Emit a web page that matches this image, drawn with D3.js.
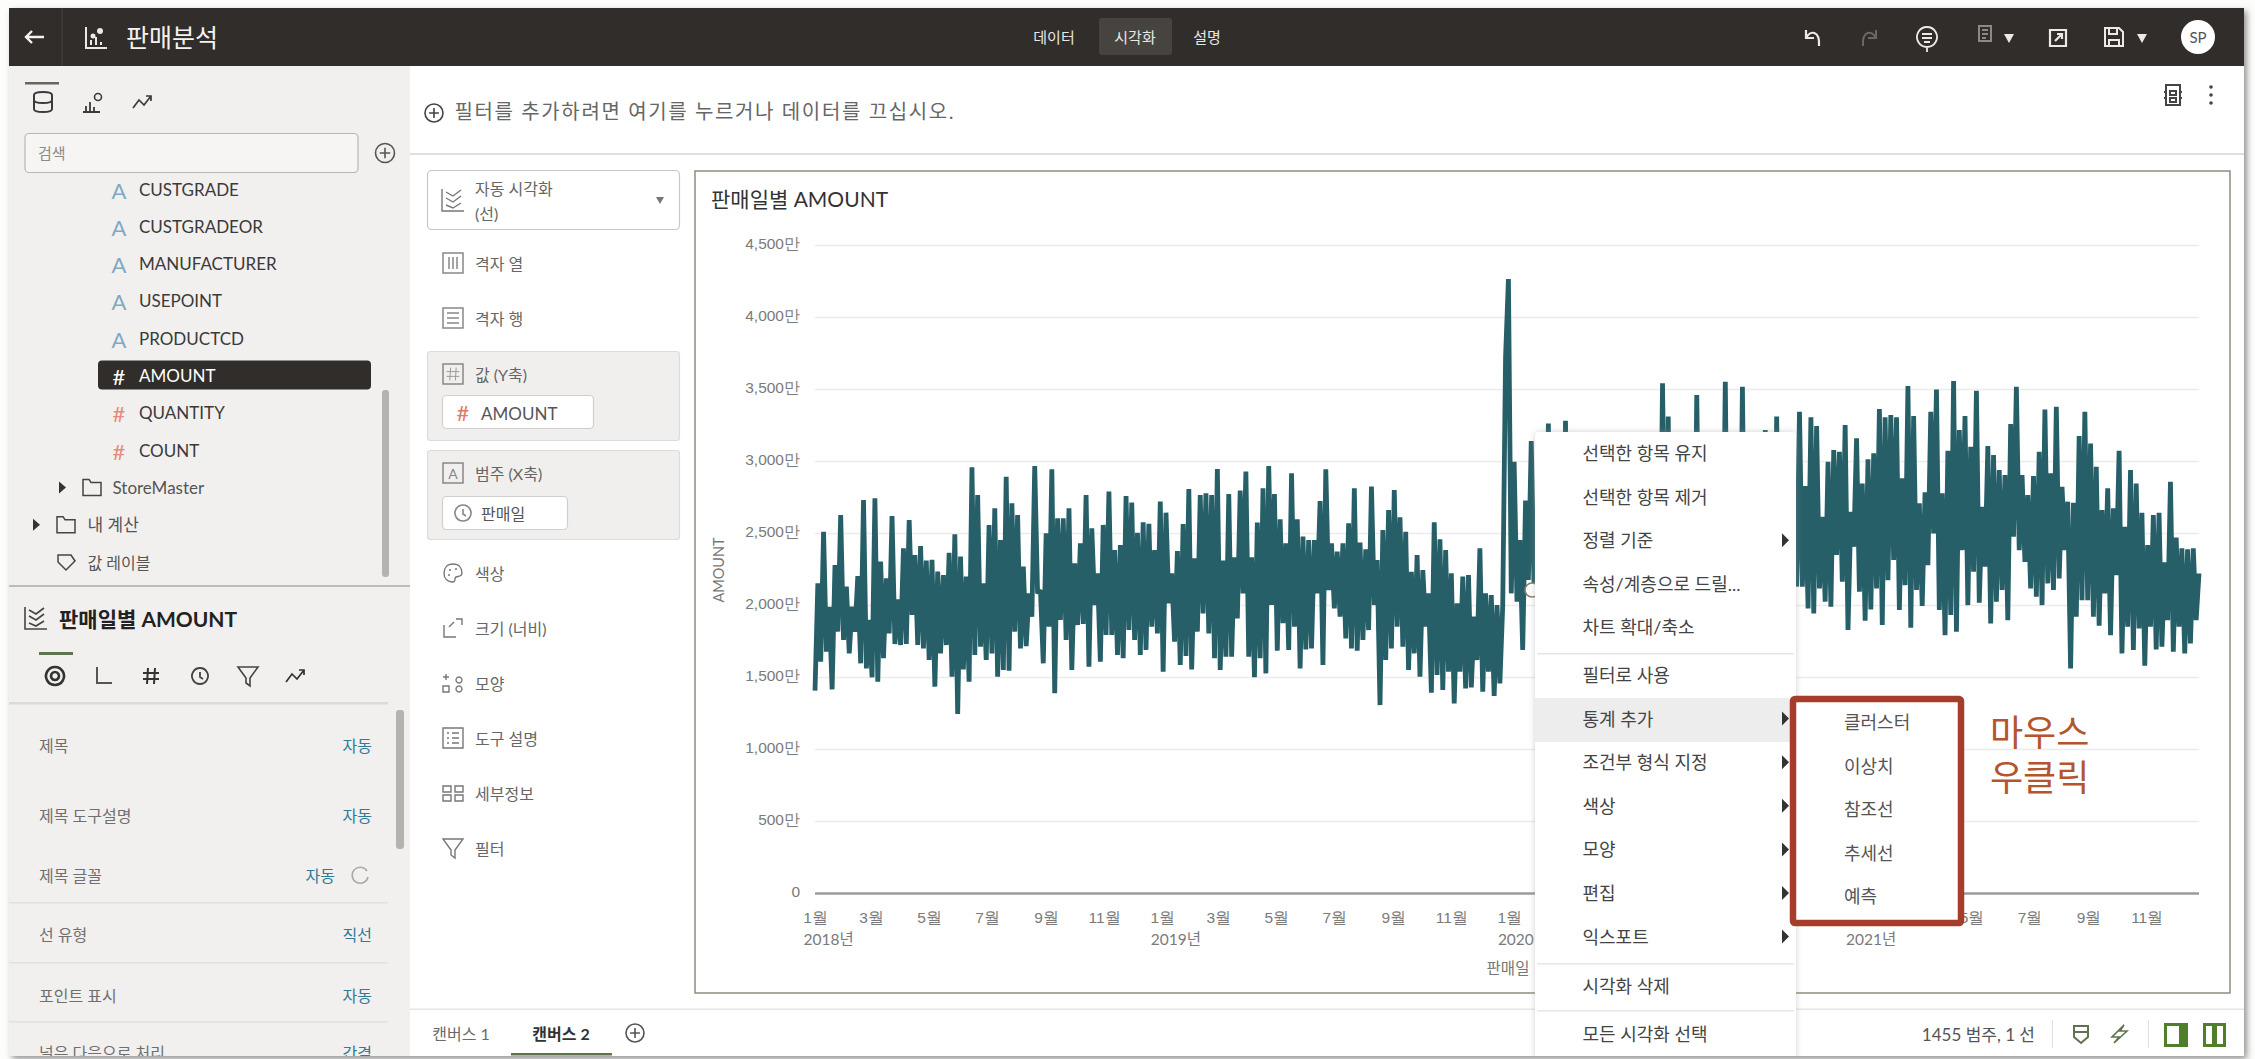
<!DOCTYPE html>
<html lang="ko">
<head>
<meta charset="utf-8">
<title>판매분석</title>
<script src="https://cdn.jsdelivr.net/npm/d3@7"></script>
<style>
  html, body { margin: 0; padding: 0; background: #fdfdfc; overflow: hidden; }
  svg { display: block; font-family: Lato, "Noto Sans CJK KR", sans-serif; }
  text { dominant-baseline: central; }
</style>
</head>
<body>
<svg id="app" width="2255" height="1059"></svg>
<script>
// Daily AMOUNT in units of 만, sampled every third day: each low is followed by the next high.
const amountLows = [
  1405,1607,1676,1414,1815,1757,1664,1815,1595,1560,1498,1468,1630,1803,1729,1722,1729,1931,1722,1699,1618,1433,1664,1722,1502,1243,1553,1468,1653,1711,1618,1664,1502,1549,1544,1815,1699,1715,1919,2081,1595,1850,1387,
  1896,1757,1549,1861,1868,1572,2000,1607,1792,1792,1653,1630,1826,1757,1653,1688,1850,1803,1537,2012,1745,1583,1646,1553,1815,1942,1803,1630,1549,1641,1641,1907,2081,1641,1498,1630,1525,2000,1683,1873,1688,1850,1560,1692,
  1699,2081,1583,2104,1977,1919,1768,1699,1683,1757,1826,2000,1305,1618,1699,1850,1711,1549,1664,1502,1850,1391,1514,1410,1537,1317,1537,1421,1428,1618,1398,1537,1368,1456,3725,2081,2023,1688,2174,2100,
  1750,1820,1680,1900,1640,1780,1860,1600,1720,1950,1680,1800,1580,1740,1880,1650,1790,1930,1700,1620,1850,1760,1900,1560,1700,1820,1960,1680,1780,1600,1890,1730,1840,1640,1980,1760,1690,1870,1620,1800,1940,1710,1850,1780,1900,
  2127,2127,1976,1942,2115,2023,1988,2347,2162,1826,2405,2092,1891,1969,2115,1861,2173,2312,1965,2138,1842,2104,1993,2277,2497,1965,1791,1930,1814,2381,1999,2231,2016,2266,1872,2023,
  2104,1895,2474,2381,2300,2115,2057,1999,2150,2104,2185,2381,1560,1918,2034,2034,1918,1856,2080,1791,2208,1664,1849,1687,1837,1578,1849,1692,1710,1895,1675,1849,1664,1733,1895
];
const amountHighs = [
  2151,2509,1988,2278,2625,2127,1988,2201,2729,1896,2741,2301,2185,2618,2039,2394,2590,2347,2410,2308,2313,2232,2208,2363,2491,2336,2197,2956,2764,2151,2556,2671,2451,2891,2706,2625,2266,2081,2965,2104,2498,2942,2602,
  2602,2671,2289,2428,2764,2533,2220,2556,2787,2382,2417,2757,2711,2502,2574,2563,2382,2718,2641,2220,2375,2563,2806,2324,2764,2776,2764,2945,2308,2771,2331,2794,2926,2331,2572,2810,2965,2771,2595,2428,2914,2595,2475,2451,
  2451,2722,2942,2428,2370,2428,2567,2810,2433,2387,2822,2312,2521,2660,2799,2609,2509,2231,2347,2243,2081,2574,2456,2382,2220,2012,2197,2208,1919,2393,2081,2069,2000,1995,4264,2995,2451,2725,3139,
  2600,2800,3261,2700,2500,3280,2600,2900,2500,2700,3000,2500,2800,2600,2900,2500,2750,2600,3000,2550,2800,3000,3539,3308,2700,2900,2500,2800,3458,2600,2900,2700,2500,3551,2800,2600,3516,2500,2900,2700,3215,2800,3308,2700,2900,2600,
  3342,2826,3303,3243,2613,2995,3076,3064,3250,2648,3157,2844,3011,3053,3361,3303,3319,3303,2879,3520,3312,2706,2782,3342,3497,2775,3071,3555,3215,3312,3099,3488,2682,3104,3041,2937,
  2902,3257,3516,2902,2763,2895,3064,3358,2914,3377,2821,2717,2710,3173,3342,3122,2960,2659,2810,2671,3071,2543,2937,2844,2641,2416,2625,2641,2296,2856,2469,2393,2386,2393,2219
];
const yTicks = [0, 500, 1000, 1500, 2000, 2500, 3000, 3500, 4000, 4500];
const yearLabels = ["2018년", "2019년", "2020년", "2021년"];
const chartTitle = "판매일별 AMOUNT";

const fieldNames = ["CUSTGRADE", "CUSTGRADEOR", "MANUFACTURER", "USEPOINT", "PRODUCTCD", "AMOUNT", "QUANTITY", "COUNT"];
const shelfNames = ["색상", "크기 (너비)", "모양", "도구 설명", "세부정보", "필터"];
const propertyNames = ["제목", "제목 도구설명", "제목 글꼴", "선 유형", "포인트 표시", "널은 다음으로 처리"];
const propertyValues = ["자동", "자동", "자동", "직선", "자동", "간격"];
const menuGroups = [
  ["선택한 항목 유지", "선택한 항목 제거", "정렬 기준", "속성/계층으로 드릴...", "차트 확대/축소"],
  ["필터로 사용", "통계 추가", "조건부 형식 지정", "색상", "모양", "편집", "익스포트"],
  ["시각화 삭제"],
  ["모든 시각화 선택"]
];
const menuWithArrow = ["정렬 기준", "통계 추가", "조건부 형식 지정", "색상", "모양", "편집", "익스포트"];
const statsItems = ["클러스터", "이상치", "참조선", "추세선", "예측"];
const calloutLines = ["마우스", "우클릭"];

const svg = d3.select("#app");
const INK = "#3a3a3a", TEAL = "#2e7c96", OLIVE = "#5f7350";

function label(parent, x, y, str, size, fill, opts = {}) {
  return parent.append("text").attr("x", x).attr("y", y).text(str)
    .attr("font-size", size).attr("fill", fill)
    .attr("text-anchor", opts.anchor || "start")
    .attr("font-weight", opts.weight || 400);
}
function box(parent, x, y, w, h, fill, opts = {}) {
  return parent.append("rect").attr("x", x).attr("y", y).attr("width", w).attr("height", h)
    .attr("rx", opts.rx || 0).attr("fill", fill)
    .attr("stroke", opts.stroke || "none").attr("stroke-width", opts.sw || 1);
}
function glyph(parent, x, y, d, stroke, sw = 1.6) {
  return parent.append("path").attr("transform", `translate(${x},${y})`).attr("d", d)
    .attr("fill", "none").attr("stroke", stroke).attr("stroke-width", sw);
}
function circlePlus(parent, x, y, r, color) {
  parent.append("circle").attr("cx", x).attr("cy", y).attr("r", r).attr("fill", "none").attr("stroke", color).attr("stroke-width", 1.6);
  glyph(parent, x, y, `M${-r * .55},0H${r * .55}M0,${-r * .55}V${r * .55}`, color, 1.6);
}
const lineChartIcon = "M-11,-11V11H11M-7,-8L0,-4L8,-10M-7,-2L0,2L8,-4M-7,5L0,8L8,3";
const listIcon = "M-10,-10H10V10H-10ZM-6,-5H6M-6,0H6M-6,5H6";
const gridIcon = "M-10,-10H10V10H-10ZM-4,-6V6M0,-6V6M4,-6V6";
const hashIcon = "M-3,-8L-4,8M4,-8L3,8M-8,-3H8M-8,3H8";
const clockIcon = "M0,-8A8,8 0 1,1 -0.01,-8ZM0,-4V1L3,3";
const funnelIcon = "M-10,-9H10L2,2V10L-2,7V2Z";
const trendIcon = "M-9,6L-3,-2L2,3L9,-6M4,-6H9V-1";

// Window frame with its soft shadow
const frameShadow = svg.append("defs");
const shadowFilter = frameShadow.append("filter").attr("id", "frameShadow").attr("x", "-2%").attr("y", "-2%").attr("width", "104%").attr("height", "104%");
shadowFilter.append("feDropShadow").attr("dx", 3).attr("dy", 3).attr("stdDeviation", 3).attr("flood-color", "#666").attr("flood-opacity", .7);
const menuFilter = frameShadow.append("filter").attr("id", "menuShadow").attr("x", "-5%").attr("y", "-3%").attr("width", "110%").attr("height", "106%");
menuFilter.append("feDropShadow").attr("dx", 0).attr("dy", 0).attr("stdDeviation", 3).attr("flood-color", "#999").attr("flood-opacity", .45);
frameShadow.append("clipPath").attr("id", "windowClip").append("rect").attr("x", 9).attr("y", 8).attr("width", 2235).attr("height", 1048);

box(svg, 9, 8, 2235, 1048, "#fff").attr("filter", "url(#frameShadow)");
const app = svg.append("g").attr("clip-path", "url(#windowClip)");

// Header bar
box(app, 9, 8, 2235, 58, "#312d2a");
app.append("line").attr("x1", 62).attr("x2", 62).attr("y1", 8).attr("y2", 66).attr("stroke", "#47433f");
glyph(app, 35, 37, "M9,0H-9M-3,-6L-9,0L-3,6", "#f4f3f1", 2.4);
glyph(app, 96, 38, "M-10,-11V10H11M-5,7V2M0,7V-1M5,7V4", "#ece9e6", 2);
app.append("circle").attr("cx", 100).attr("cy", 31).attr("r", 3).attr("fill", "#ece9e6");
app.append("circle").attr("cx", 93).attr("cy", 36).attr("r", 2.5).attr("fill", "#ece9e6");
label(app, 126, 37, "판매분석", 25, "#f4f3f1");
box(app, 1099, 18, 73, 37, "#47433f", { rx: 3 });
["데이터", "시각화", "설명"].forEach((t, i) => label(app, [1054, 1135, 1207][i], 37, t, 15, "#e9e7e4", { anchor: "middle" }));
glyph(app, 1812, 38, "M-6,-8V0H2M-6,0C-2,-8 8,-8 7,8", "#ece9e6", 2.2);
glyph(app, 1870, 38, "M6,-8V0H-2M6,0C2,-8 -8,-8 -7,8", "#6b6763", 2);
glyph(app, 1927, 38, "M0,-11A10,10 0 1,1 -0.01,-11ZM-5,-4H5M-5,0H5M-3,4H3M0,9V14", "#ece9e6", 1.8);
glyph(app, 1985, 35, "M-6,-9H6V6H-6ZM-3,-5H3M-3,-1H3M-3,3H1", "#8c8a86", 2);
glyph(app, 2058, 38, "M-8,-8H8V8H-8ZM-3,3L4,-4M-1,-4H4V1", "#ece9e6", 2.2);
glyph(app, 2114, 37, "M-9,-9H5L9,-5V9H-9ZM-5,-9V-3H3V-9M-5,9V3H5V9", "#ece9e6", 2);
[2009, 2142].forEach(bx => app.append("path").attr("transform", `translate(${bx},38)`).attr("d", "M-5,-4H5L0,5Z").attr("fill", "#ece9e6"));
app.append("circle").attr("cx", 2198).attr("cy", 37).attr("r", 17).attr("fill", "#fff");
label(app, 2198, 37, "SP", 15, "#555", { anchor: "middle" });

// Data panel
box(app, 9, 66, 401, 990, "#f2f0ee");
box(app, 25, 82, 34, 2.5, "#66665c");
glyph(app, 43, 102, "M-9,-7C-9,-11 9,-11 9,-7V7C9,11 -9,11 -9,7ZM-9,-2C-9,2 9,2 9,-2", "#3a3a3a", 2);
glyph(app, 92, 103, "M-9,9H8M-6,8V3M-2,8V-1M2,8V4", "#3a3a3a", 1.8);
app.append("circle").attr("cx", 98).attr("cy", 97).attr("r", 3.5).attr("fill", "none").attr("stroke", "#3a3a3a").attr("stroke-width", 1.6);
glyph(app, 142, 102, trendIcon, "#3a3a3a", 1.7);
box(app, 25, 133.5, 333, 39, "#f6f5f3", { rx: 4, stroke: "#b9b7b3", sw: 1.2 });
label(app, 38, 153, "검색", 15, "#8b8b8b");
circlePlus(app, 385, 153, 9.5, "#555");

const fieldY = i => 189 + 37.3 * i;
box(app, 98, fieldY(5) - 15, 273, 29, "#312d2a", { rx: 4 });
fieldNames.forEach((name, i) => {
  const isMeasure = i >= 5;
  const active = name === "AMOUNT";
  label(app, 119, fieldY(i) + 1, isMeasure ? "#" : "A", 22, active ? "#fff" : (isMeasure ? "#e58b7c" : "#7fa9c2"), { anchor: "middle" });
  label(app, 139, fieldY(i), name, 17, active ? "#fff" : INK);
});
const folder = "M-9,-8H-3L-1,-5H9V8H-9Z";
[[62, 92, 112.5, fieldY(8), "StoreMaster"], [36, 66, 87.5, fieldY(9), "내 계산"]].forEach(([tx, fx, lx, ry, name]) => {
  app.append("path").attr("transform", `translate(${tx},${ry})`).attr("d", "M-3,-6L4,0L-3,6Z").attr("fill", "#333");
  glyph(app, fx, ry, folder, "#444", 1.5);
  label(app, lx, ry, name, 17, "#555");
});
glyph(app, 66, fieldY(10), "M-8,-7H5L9,-1L0,8L-8,0Z", "#444", 1.5);
label(app, 87.5, fieldY(10), "값 레이블", 16, "#555");
box(app, 382, 390, 7, 187, "#b5b3af", { rx: 3 });
box(app, 9, 585, 401, 2, "#bdbbb7");

// Properties panel
glyph(app, 36, 618, lineChartIcon, "#444", 1.6);
label(app, 59, 618, chartTitle, 21, "#222", { weight: 700 });
box(app, 39, 652, 34, 3, OLIVE);
glyph(app, 55, 676, "M0,-9A9,9 0 1,1 -0.01,-9ZM0,-4A4,4 0 1,1 -0.01,-4Z", "#333", 2.6);
glyph(app, 103, 676, "M-6,-9V7H9", "#555", 2);
glyph(app, 151, 676, hashIcon, "#333", 2);
glyph(app, 200, 676, clockIcon, "#444", 1.8);
glyph(app, 248, 676, funnelIcon, "#444", 1.6);
glyph(app, 295, 676, trendIcon, "#333", 1.7);
box(app, 9, 702, 379, 2.5, "#dcdad6");
const propertyY = [745, 815, 875, 934, 995, 1052];
propertyNames.forEach((name, i) => {
  label(app, 39, propertyY[i], name, 16, "#6f6f6f");
  const isFont = name === "제목 글꼴";
  label(app, isFont ? 335 : 372, propertyY[i], propertyValues[i], 16, TEAL, { anchor: "end" });
});
glyph(app, 360, 875, "M7,-4A8,8 0 1,0 8,2", "#aaa", 1.6);
[902, 962, 1021].forEach(ry => box(app, 9, ry, 379, 1.5, "#e2e0dc"));
box(app, 396, 710, 8, 139, "#b5b3af", { rx: 3 });

// Filter bar
circlePlus(app, 434, 113, 9, "#444");
label(app, 454.5, 111, "필터를 추가하려면 여기를 누르거나 데이터를 끄십시오.", 20, "#666").attr("textLength", 499);
box(app, 410, 153, 1834, 2, "#dfdfdf");
glyph(app, 2173, 95, "M-7,-10H7V10H-7ZM-3,-4H3V0H-3ZM-3,3H3V7H-3ZM-9,-3H-7M7,-3H9M-9,3H-7M7,3H9", "#444", 2);
[87, 95, 103].forEach(dy => app.append("circle").attr("cx", 2211).attr("cy", dy).attr("r", 1.8).attr("fill", "#444"));

// Grammar panel
const SHELF_X = 453, SHELF_TXT = 475;
box(app, 427.5, 170.5, 252, 59, "#fff", { rx: 4, stroke: "#c8c8c8", sw: 1.2 });
glyph(app, SHELF_X, 200, lineChartIcon, "#777", 1.4);
label(app, SHELF_TXT, 188, "자동 시각화", 16, "#666");
label(app, SHELF_TXT, 213, "(선)", 16, "#666");
app.append("path").attr("transform", "translate(660,200)").attr("d", "M-4,-3H4L0,4Z").attr("fill", "#777");
glyph(app, SHELF_X, 263, gridIcon, "#888", 1.5);
label(app, SHELF_TXT, 263, "격자 열", 16, "#666");
glyph(app, SHELF_X, 318, listIcon, "#888", 1.5);
label(app, SHELF_TXT, 318, "격자 행", 16, "#666");

box(app, 427.5, 351.5, 252, 89, "#f1efed", { rx: 3, stroke: "#dcdcdc", sw: 1.2 });
glyph(app, SHELF_X, 374, "M-10,-10H10V10H-10Z", "#888", 1.5);
glyph(app, SHELF_X, 374, hashIcon, "#999", 1.2).attr("transform", `translate(${SHELF_X},374) scale(.8)`);
label(app, SHELF_TXT, 374, "값 (Y축)", 16, "#666");
box(app, 442.5, 395.5, 151, 33, "#fff", { rx: 4, stroke: "#cfcfcf", sw: 1.2 });
label(app, 463, 412, "#", 22, "#e07a68", { anchor: "middle" });
label(app, 481, 413, "AMOUNT", 17, "#555");

box(app, 427.5, 450.5, 252, 89, "#f1efed", { rx: 3, stroke: "#dcdcdc", sw: 1.2 });
glyph(app, SHELF_X, 473, "M-10,-10H10V10H-10Z", "#888", 1.5);
label(app, SHELF_X, 473, "A", 14, "#888", { anchor: "middle" });
label(app, SHELF_TXT, 473, "범주 (X축)", 16, "#666");
box(app, 442.5, 496.5, 125, 33, "#fff", { rx: 4, stroke: "#cfcfcf", sw: 1.2 });
glyph(app, 463, 513, clockIcon, "#888", 1.6);
label(app, 481, 513, "판매일", 16, "#555");

const shelfY = [573, 628, 683, 738, 793, 848];
const shelfIcons = [
  "M0,-9C6,-9 9,-5 9,0C9,4 5,3 3,4C1,5 3,9 0,9C-6,9 -9,5 -9,0C-9,-5 -6,-9 0,-9ZM-4,-3H-2M2,-4H4M-5,2H-3",
  "M-9,-3V9H3M-4,-1L1,-6M3,-9H9V-3",
  "M-7,-9V-3M-10,-6H-4M6,-6A3,3 0 1,1 5.99,-6M-10,3H-4V9H-10ZM6,3A3,3 0 1,1 5.99,3",
  "M-10,-10H10V10H-10ZM-6,-5H-4M-1,-5H6M-6,0H-4M-1,0H6M-6,5H-4M-1,5H6",
  "M-10,-7H-2V-1H-10ZM2,-7H10V-1H2ZM-10,2H-2V8H-10ZM2,2H10V8H2Z",
  funnelIcon
];
shelfNames.forEach((name, i) => {
  glyph(app, SHELF_X, shelfY[i], shelfIcons[i], "#777", 1.4);
  label(app, SHELF_TXT, shelfY[i], name, 16, "#666");
});

// Chart card
box(app, 695, 171, 1535, 822, "#fff", { stroke: "#8d8d7e", sw: 1.5 });
label(app, 711, 198, chartTitle, 21, "#333");

const amount = d3.zip(amountLows, amountHighs).flat();
const firstDay = new Date(2018, 0, 1);
const saleDay = amount.map((_, i) => d3.timeDay.offset(firstDay, i * 3));

const x = d3.scaleTime().domain([firstDay, d3.timeDay.offset(firstDay, 1455)]).range([815, 2199]);
const y = d3.scaleLinear().domain([0, 4500]).range([893, 245]);

const yAxis = app.append("g").attr("transform", "translate(815,0)")
  .call(d3.axisLeft(y).tickValues(yTicks).tickSize(-1384).tickPadding(15)
    .tickFormat(v => v === 0 ? "0" : d3.format(",")(v) + "만"));
yAxis.select(".domain").remove();
yAxis.selectAll("line").attr("stroke", v => v === 0 ? "#9b9b9b" : "#ececec").attr("stroke-width", v => v === 0 ? 2.5 : 1.6);
yAxis.selectAll("text").attr("font-family", "inherit").attr("font-size", 15.5).attr("fill", "#7a7a7a").attr("dy", 0).attr("y", -2);

const monthTicks = d3.timeMonth.range(firstDay, new Date(2021, 11, 2), 2);
const xAxis = app.append("g").attr("transform", "translate(0,893)")
  .call(d3.axisBottom(x).tickValues(monthTicks).tickSize(0).tickPadding(24)
    .tickFormat(d => (d.getMonth() + 1) + "월"));
xAxis.select(".domain").remove();
xAxis.selectAll("text").attr("font-family", "inherit").attr("font-size", 15.5).attr("fill", "#7a7a7a").attr("dy", 0);

yearLabels.forEach((t, i) => label(app, x(new Date(2018 + i, 0, 1)) - 11.5, 939, t, 15.5, "#7a7a7a"));
label(app, 1508, 968, "판매일", 15.5, "#777", { anchor: "middle" });
label(app, 0, 0, "AMOUNT", 14.5, "#777", { anchor: "middle" }).attr("transform", "translate(718,570) rotate(-90)");

app.append("path").datum(d3.zip(saleDay, amount))
  .attr("d", d3.line().x(d => x(d[0])).y(d => y(d[1])))
  .attr("fill", "none").attr("stroke", "#265f68").attr("stroke-width", 4.8).attr("stroke-linejoin", "bevel");

// Selection ring peeking out from under the context menu
app.append("circle").attr("cx", 1532).attr("cy", 590).attr("r", 7).attr("fill", "#fff").attr("stroke", "#8b7d6d").attr("stroke-width", 1.6);

// Canvas tabs and status bar
box(app, 410, 1009, 1834, 47, "#fff");
box(app, 410, 1008.5, 1834, 1.5, "#e6e6e6");
label(app, 461, 1033, "캔버스 1", 16, "#6a6a6a", { anchor: "middle" });
label(app, 561, 1033, "캔버스 2", 16, "#333", { anchor: "middle", weight: 700 });
box(app, 511, 1053, 101, 2.5, OLIVE);
circlePlus(app, 635, 1033, 9, "#555");
label(app, 2035, 1034, "1455 범주, 1 선", 17, "#555", { anchor: "end" });
glyph(app, 2081, 1034, "M-7,-8H7V3L0,9L-7,3ZM-7,-2H7", OLIVE, 2);
glyph(app, 2119, 1034, "M5,-9L-7,3H0L-5,9L8,-3H1Z", OLIVE, 1.6);
[2052, 2148].forEach(bx => box(app, bx, 1020, 1, 28, "#e0e0e0"));
box(app, 2165.5, 1024.5, 21, 21, "#fff", { stroke: "#4f7f2a", sw: 3 });
box(app, 2179, 1025, 7, 20, "#4f7f2a");
box(app, 2204.5, 1024.5, 20, 21, "#fff", { stroke: "#4f7f2a", sw: 3 });
box(app, 2212, 1025, 5, 20, "#4f7f2a");

// Context menu
const menu = app.append("g");
box(menu, 1535, 432, 261, 630, "#fff", { rx: 4 }).attr("filter", "url(#menuShadow)");
box(menu, 1535, 698, 261, 44, "#ededed");
const MENU_TOP = 453, MENU_STEP = 43.6;
const groupGap = [0, 4, 10, 14];
let rowIndex = 0;
menuGroups.forEach((group, g) => {
  group.forEach(item => {
    const rowY = MENU_TOP + MENU_STEP * rowIndex + groupGap[g];
    label(menu, 1582.5, rowY, item, 18, "#444");
    if (menuWithArrow.includes(item)) {
      menu.append("path").attr("transform", `translate(1785,${rowY})`).attr("d", "M-3,-7L4,0L-3,7Z").attr("fill", "#333");
    }
    rowIndex++;
  });
});
[653, 963, 1010].forEach(sy => box(menu, 1537, sy, 257, 1.5, "#e6e6e6"));

// Statistics submenu inside its highlight frame
box(menu, 1793, 699, 168, 224, "#fff", { rx: 2, stroke: "#a63c2b", sw: 6.5 });
const statsY = d3.scalePoint().domain(statsItems).range([722, 896]);
statsItems.forEach(item => label(menu, 1844, statsY(item), item, 18, "#555"));
calloutLines.forEach((line, i) => label(app, 1990, 732 + 45 * i, line, 36, "#b4552d"));
</script>
</body>
</html>
